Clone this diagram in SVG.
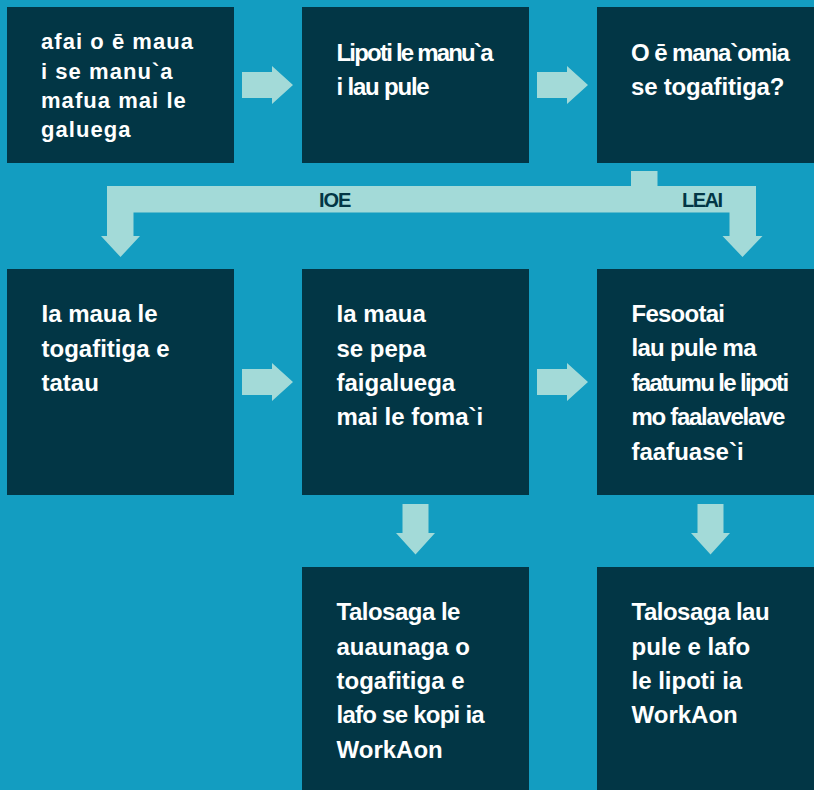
<svg xmlns="http://www.w3.org/2000/svg" xmlns:xlink="http://www.w3.org/1999/xlink" width="814" height="790" viewBox="0 0 814 790">
<style>
.bg{fill:#139dc1}
.node{fill:#023645}
.arrow{fill:#a3dad8}
.t{font-family:"Liberation Sans",Arial,sans-serif;font-weight:bold;fill:#ffffff;font-size:24px}
.t1{font-size:22px;letter-spacing:1.05px}
.lbl{font-family:"Liberation Sans",Arial,sans-serif;font-weight:bold;fill:#023645;font-size:20px}
</style>
<defs>
<path id="arrR" d="M0,0 H30 V-6 L51,13 L30,32 V26 H0 Z"/>
<path id="arrD" d="M0,0 H26 V29 H32.5 L13,50.5 L-6.5,29 H0 Z"/>
</defs>
<rect class="bg" x="0" y="0" width="814" height="790"/>

<g id="n1">
<rect class="node" x="7" y="7" width="227" height="156"/>
<text class="t t1"><tspan x="41" y="49">afai o ē maua</tspan><tspan x="41" y="78.5">i se manu`a</tspan><tspan x="41" y="107.5">mafua mai le</tspan><tspan x="41" y="136.5">galuega</tspan></text>
</g>
<g id="n2">
<rect class="node" x="302" y="7" width="227" height="156"/>
<text class="t"><tspan x="336.5" y="60.5" letter-spacing="-1.8">Lipoti le manu`a</tspan><tspan x="336.5" y="94.5" letter-spacing="-1.2">i lau pule</tspan></text>
</g>
<g id="n3">
<rect class="node" x="597" y="7" width="230" height="156"/>
<text class="t"><tspan x="631" y="60.5" letter-spacing="-1.1">O ē mana`omia</tspan><tspan x="631" y="94.5" letter-spacing="-0.2">se togafitiga?</tspan></text>
</g>
<g id="n4">
<rect class="node" x="7" y="269" width="227" height="226"/>
<text class="t"><tspan x="41.5" y="321.5">Ia maua le</tspan><tspan x="41.5" y="356.5">togafitiga e</tspan><tspan x="41.5" y="391">tatau</tspan></text>
</g>
<g id="n5">
<rect class="node" x="302" y="269" width="227" height="226"/>
<text class="t"><tspan x="336.5" y="321.5">Ia maua</tspan><tspan x="336.5" y="356.5">se pepa</tspan><tspan x="336.5" y="390.5">faigaluega</tspan><tspan x="336.5" y="425">mai le foma`i</tspan></text>
</g>
<g id="n6">
<rect class="node" x="597" y="269" width="230" height="226"/>
<text class="t"><tspan x="631.5" y="321.5" letter-spacing="-0.75">Fesootai</tspan><tspan x="631.5" y="356" letter-spacing="-0.7">lau pule ma</tspan><tspan x="631.5" y="390.5" letter-spacing="-1.65">faatumu le lipoti</tspan><tspan x="631.5" y="425" letter-spacing="-1.3">mo faalavelave</tspan><tspan x="631.5" y="459.5">faafuase`i</tspan></text>
</g>
<g id="n7">
<rect class="node" x="302" y="567" width="227" height="230"/>
<text class="t"><tspan x="336.5" y="620" letter-spacing="-0.5">Talosaga le</tspan><tspan x="336.5" y="654.5">auaunaga o</tspan><tspan x="336.5" y="688.5">togafitiga e</tspan><tspan x="336.5" y="723" letter-spacing="-0.75">lafo se kopi ia</tspan><tspan x="336.5" y="757.5">WorkAon</tspan></text>
</g>
<g id="n8">
<rect class="node" x="597" y="567" width="230" height="230"/>
<text class="t"><tspan x="631.5" y="620" letter-spacing="-0.5">Talosaga lau</tspan><tspan x="631.5" y="654.5">pule e lafo</tspan><tspan x="631.5" y="688.5">le lipoti ia</tspan><tspan x="631.5" y="723">WorkAon</tspan></text>
</g>

<g id="connectors">
<use href="#arrR" xlink:href="#arrR" class="arrow" x="242" y="72"/>
<use href="#arrR" xlink:href="#arrR" class="arrow" x="537" y="72"/>
<use href="#arrR" xlink:href="#arrR" class="arrow" x="242" y="369"/>
<use href="#arrR" xlink:href="#arrR" class="arrow" x="537" y="369"/>
<use href="#arrD" xlink:href="#arrD" class="arrow" x="402.5" y="504"/>
<use href="#arrD" xlink:href="#arrD" class="arrow" x="697.5" y="504"/>
<path class="arrow" d="M631,171 H657.5 V186 H756 V236 H762.5 L742.5,257 L722.5,236 H729.5 V212.5 H133.5 V236 H140 L120.5,257 L101,236 H107 V186 H631 Z"/>
<text class="lbl" x="319" y="206.5" letter-spacing="-1">IOE</text>
<text class="lbl" x="682" y="206.5" letter-spacing="-1.5">LEAI</text>
</g>
</svg>
